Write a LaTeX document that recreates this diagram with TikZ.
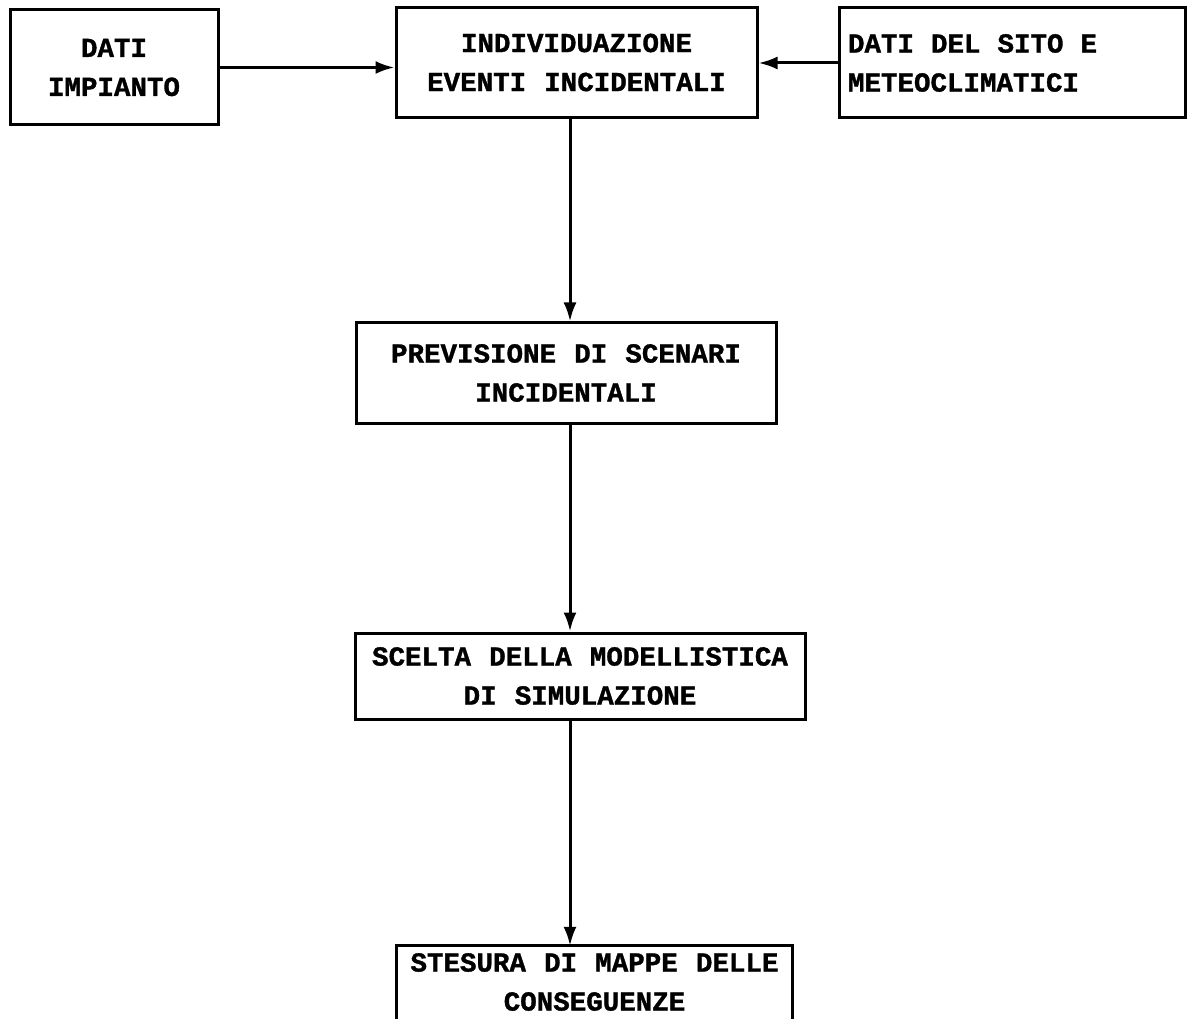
\documentclass[tikz,border=0pt]{standalone}
\usepackage{fontspec}
\newfontfamily\boxfont[FakeBold=1.2,WordSpace={1.1,0,0}]{Liberation Mono Bold}
\usetikzlibrary{arrows.meta}
\tikzset{
  boxtext/.style={font=\boxfont\fontsize{27.5}{39}\selectfont},
  box/.style={draw, line width=3pt, rectangle, inner sep=0pt, align=center, boxtext},
  txt/.style={inner sep=0pt, align=center, boxtext},
  arr/.style={line width=3pt, -{Latex[length=19pt,width=13pt]}}
}
\begin{document}
\begin{tikzpicture}[x=1pt,y=-1pt]
\clip (0,0) rectangle (1187,1019);
\fill[white] (0,0) rectangle (1187,1019);
\node[box, minimum width=208pt, minimum height=115pt] (dati) at (114,67.5) {DATI\\IMPIANTO};
\node[box, minimum width=361pt, minimum height=110pt] (indiv) at (576.5,62.5) {INDIVIDUAZIONE\\EVENTI INCIDENTALI};
\node[box, minimum width=346pt, minimum height=110pt, align=left] (sito) at (1012,63) {\makebox[328pt][l]{DATI\hspace*{17pt}DEL\hspace*{17pt}SITO\hspace*{17pt}E}\\\makebox[328pt][l]{METEOCLIMATICI}};
\node[box, minimum width=420pt, minimum height=100pt] (prev) at (566,373) {PREVISIONE DI SCENARI\\INCIDENTALI};
\node[box, minimum width=450pt, minimum height=86pt] (scelta) at (580,676) {SCELTA DELLA MODELLISTICA\\DI SIMULAZIONE};
\node[txt, minimum width=395pt, minimum height=72pt] (stes) at (594.5,982) {STESURA DI MAPPE DELLE\\CONSEGUENZE};
\draw[line width=3pt] ([yshift=-40pt]stes.south west) -- (stes.north west) -- (stes.north east) -- ([yshift=-40pt]stes.south east);
\draw[arr] (dati.east) -- (indiv.west |- dati.east);
\draw[arr] (sito.west) -- (indiv.east |- sito.west);
\coordinate (c1) at (570,0);
\draw[arr] (c1 |- indiv.south) -- (c1 |- prev.north);
\draw[arr] (c1 |- prev.south) -- (c1 |- scelta.north);
\draw[arr] (c1 |- scelta.south) -- (c1 |- stes.north);
\end{tikzpicture}
\end{document}
